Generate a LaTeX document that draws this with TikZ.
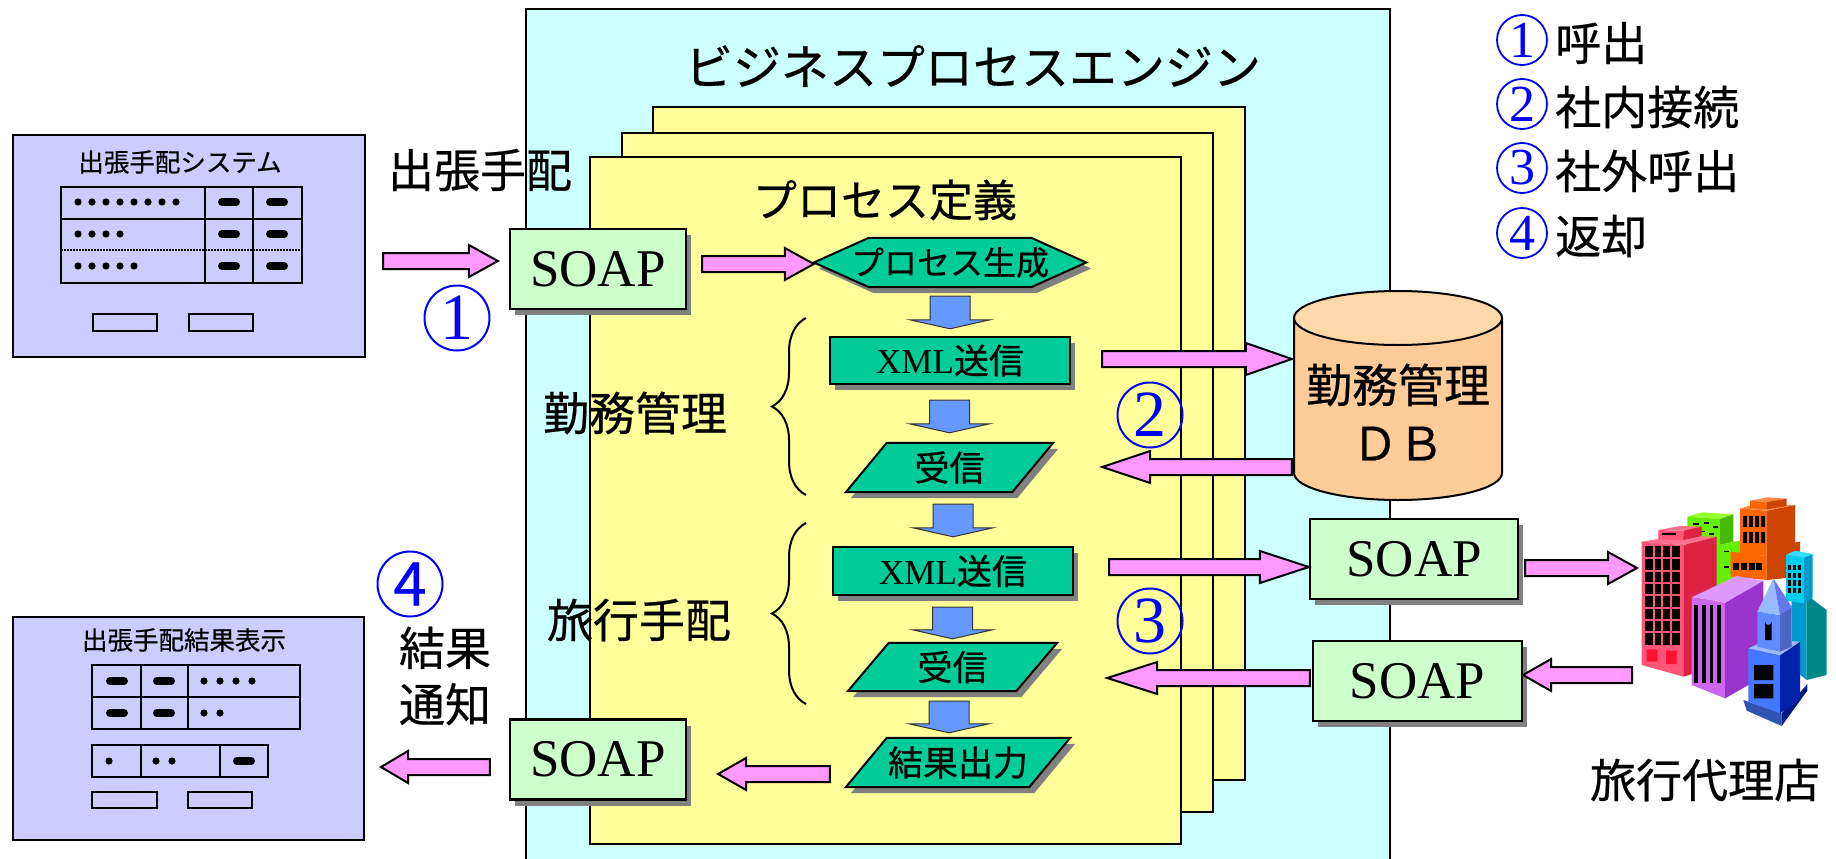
\documentclass[tikz,border=0pt]{standalone}
\usepackage{fontspec}
\setmainfont{Noto Sans CJK JP}[FakeBold=0.5]
\newfontfamily\tms{Liberation Serif}
\usetikzlibrary{calc,shadows,decorations.pathreplacing}
\pgfdeclarelayer{backdrop}
\pgfdeclarelayer{shapes}
\pgfsetlayers{backdrop,shapes,main}

\newcommand\setfs[1]{\fontsize{#1}{#1}\selectfont}

\definecolor{engine}{HTML}{CCFFFF}
\definecolor{sheet}{HTML}{FFFF99}
\definecolor{screenfill}{HTML}{CCCCFF}
\definecolor{soapfill}{HTML}{CCFFCC}
\definecolor{stepfill}{HTML}{00CC99}
\definecolor{flowpink}{HTML}{FF99FF}
\definecolor{flowblue}{HTML}{6699FF}
\definecolor{dbbody}{HTML}{FFCC99}
\definecolor{dbtop}{HTML}{FFD8AA}
\definecolor{shade}{HTML}{808080}
\definecolor{numblue}{HTML}{0000FF}
% city colours
\definecolor{gtop}{HTML}{99FF33}
\definecolor{gfront}{HTML}{66EE00}
\definecolor{gside}{HTML}{44BB00}
\definecolor{otop}{HTML}{FF8844}
\definecolor{ofront}{HTML}{FF6600}
\definecolor{oside}{HTML}{CC4400}
\definecolor{ctop}{HTML}{33DDFF}
\definecolor{cfront}{HTML}{00CCEE}
\definecolor{cside}{HTML}{0099CC}
\definecolor{cdark}{HTML}{008888}
\definecolor{ptop}{HTML}{FF7090}
\definecolor{pfront}{HTML}{FF5577}
\definecolor{pside}{HTML}{DD2244}
\definecolor{pleg}{HTML}{FF1133}
\definecolor{vtop}{HTML}{DD99FF}
\definecolor{vfront}{HTML}{CC66EE}
\definecolor{vside}{HTML}{9933CC}
\definecolor{btop}{HTML}{99BBFF}
\definecolor{bfront}{HTML}{4477FF}
\definecolor{bside}{HTML}{0022AA}
\definecolor{bspire}{HTML}{6677EE}

\tikzset{
  screen/.style={draw, line width=2, fill=screenfill, inner sep=0},
  tbl/.style={line width=1.6},
  bar/.style={line width=8, line cap=round},
  biglabel/.style={inner sep=0, font=\setfs{46}},
  soapbox/.style={draw, line width=2.2, fill=soapfill, inner sep=0,
    minimum width=#1, minimum height=80, font=\tms\setfs{53},
    drop shadow={shadow xshift=5pt, shadow yshift=-6pt, fill=shade, opacity=1}},
  stepnode/.style={inner sep=0, font=\setfs{35}},
  stepshape/.style={draw, line width=2, fill=stepfill,
    drop shadow={shadow xshift=5pt, shadow yshift=-6pt, fill=shade, opacity=1}},
  fatarrow/.style={draw, line width=2, fill=flowpink, line join=miter,
    to path={let \p1=(\tikztostart), \p2=(\tikztotarget),
      \n1={\x2-sign(\x2-\x1)*#1} in
      (\x1,\y1+8pt) -- (\n1,\y1+8pt) -- (\n1,\y1+16pt) -- (\x2,\y1)
      -- (\n1,\y1-16pt) -- (\n1,\y1-8pt) -- (\x1,\y1-8pt) -- cycle}},
  fatarrow/.default=29,
  downflow/.style={draw=black!80, line width=1, fill=flowblue,
    to path={let \p1=(\tikztostart), \p2=(\tikztotarget) in
      (\x2-20pt,\y1) -- (\x2+20pt,\y1) -- (\x2+20pt,\y2+9pt) -- (\x2+40pt,\y2+9pt)
      -- (\x2,\y2) -- (\x2-40pt,\y2+9pt) -- (\x2-20pt,\y2+9pt) -- cycle}},
  curly/.style={decorate, decoration={brace, amplitude=34}, line width=2},
  numbig/.style={circle, draw=numblue, line width=2, text=numblue, inner sep=0,
    minimum size=65, font=\tms\setfs{66}},
  numsmall/.style={circle, draw=numblue, line width=1.8, text=numblue, inner sep=0,
    minimum size=50, font=\tms\setfs{52}},
}

\begin{document}
\begin{tikzpicture}[x=1pt, y=-1pt]
\useasboundingbox (0,0) rectangle (1836,859);

% engine frame and the stacked process sheets
\begin{pgfonlayer}{backdrop}
  \fill[engine] (526,9) rectangle (1390,866);
  \draw[line width=2] (526,866) -- (526,9) -- (1390,9) -- (1390,866);
  \foreach \l/\t/\r/\b in {653/107/1245/780, 622/133/1213/812, 590/157/1181/844}
    \draw[line width=2.4, fill=sheet] (\l,\t) rectangle (\r,\b);
\end{pgfonlayer}

% ---- travel request screen
\node[screen, minimum width=352, minimum height=222] (box1) at (189,246) {};
\node[inner sep=0, font=\setfs{25.5}] (box1title) at (180,162) {出張手配システム};
\draw[tbl] (61,187) rectangle (302,283) (205,187) -- (205,283) (253,187) -- (253,283)
  (61,219) -- (302,219);
\draw[line width=1.2, dash pattern=on 1.5pt off 1.5pt] (61,250) -- (302,250);
\foreach \i in {0,...,7} \fill (78+14*\i,202) circle (3.6);
\foreach \i in {0,...,3} \fill (78+14*\i,234) circle (3.6);
\foreach \i in {0,...,4} \fill (78+14*\i,266) circle (3.6);
\foreach \y in {202,234,266} {\draw[bar] (222,\y) -- (236,\y); \draw[bar] (270,\y) -- (284,\y);}
\draw[tbl] (93,314) rectangle (157,331) (189,314) rectangle (253,331);

% ---- result screen
\node[screen, minimum width=351, minimum height=223] (box2) at (188.5,728.5) {};
\node[inner sep=0, font=\setfs{25.5}] (box2title) at (184,640) {出張手配結果表示};
\draw[tbl] (92,665) rectangle (300,729) (141,665) -- (141,729) (188,665) -- (188,729)
  (92,697) -- (300,697);
\foreach \y in {681,713} {\draw[bar] (110,\y) -- (124,\y); \draw[bar] (157,\y) -- (171,\y);}
\foreach \i in {0,...,3} \fill (204+16*\i,681) circle (3.6);
\foreach \i in {0,1} \fill (204+16*\i,713) circle (3.6);
\draw[tbl] (92,745) rectangle (268,777) (141,745) -- (141,777) (220,745) -- (220,777);
\fill (109,761) circle (3.6) (156,761) circle (3.6) (172,761) circle (3.6);
\draw[bar] (237,761) -- (251,761);
\draw[tbl] (92,792) rectangle (157,808) (188,792) rectangle (252,808);

% ---- headings and labels
\node[inner sep=0, font=\setfs{48}] (title) at (973,66) {ビジネスプロセスエンジン};
\node[inner sep=0, font=\setfs{44}] (procdef) at (885,200) {プロセス定義};
\node[biglabel] (lblorder) at (480,170) {出張手配};
\node[biglabel] (lblwork) at (635,413) {勤務管理};
\node[biglabel] (lbltravel) at (639,620) {旅行手配};
\node[biglabel, align=center, font=\fontsize{46}{56.5}\selectfont] (lblnotify) at (445,676) {結果\\通知};
\node[biglabel] (agency) at (1705,780) {旅行代理店};

% ---- SOAP gateways
\node[soapbox=176] (soap1) at (598,269) {SOAP};
\node[soapbox=176] (soap2) at (598,759.5) {SOAP};
\node[soapbox=208] (soapout) at (1414,559) {SOAP};
\node[soapbox=209] (soapin) at (1417.5,681) {SOAP};

% ---- process steps
\node[stepnode, minimum width=272, minimum height=49, font=\setfs{33}] (hex) at (950,262.5) {プロセス生成};
\node[stepnode, minimum width=240, minimum height=47] (xml1) at (950,360.5) {{\tms XML}送信};
\node[stepnode, minimum width=207, minimum height=49] (recv1) at (949.5,467.5) {受信};
\node[stepnode, minimum width=240, minimum height=48] (xml2) at (953,571) {{\tms XML}送信};
\node[stepnode, minimum width=209, minimum height=48] (recv2) at (952.5,667) {受信};
\node[stepnode, minimum width=224, minimum height=49] (result) at (958,762.5) {結果出力};

\begin{pgfonlayer}{shapes}
  \path[stepshape] (hex.west) -- ([xshift=55]hex.north west) -- ([xshift=-55]hex.north east)
    -- (hex.east) -- ([xshift=-55]hex.south east) -- ([xshift=55]hex.south west) -- cycle;
  \path[stepshape] (xml1.north west) rectangle (xml1.south east);
  \path[stepshape] (xml2.north west) rectangle (xml2.south east);
  \foreach \n in {recv1,recv2,result}
    \path[stepshape] ([xshift=41]\n.north west) -- (\n.north east)
      -- ([xshift=-41]\n.south east) -- (\n.south west) -- cycle;
\end{pgfonlayer}

% ---- braces grouping the two exchanges
\draw[curly] (806,495) -- (806,318);
\draw[curly] (806,704) -- (806,523);

% ---- attendance database
\fill[dbbody] (1294,318) -- (1294,473) .. controls (1294,487.9) and (1340.6,500) .. (1398,500)
  .. controls (1455.4,500) and (1502,487.9) .. (1502,473) -- (1502,318) -- cycle;
\draw[line width=2] (1294,318) -- (1294,473) .. controls (1294,487.9) and (1340.6,500) .. (1398,500)
  .. controls (1455.4,500) and (1502,487.9) .. (1502,473) -- (1502,318);
\draw[line width=2, fill=dbtop] (1398,318) ellipse [x radius=104, y radius=27];
\node[inner sep=0, minimum width=208, align=center, font=\fontsize{46}{58}\selectfont] (db) at (1398,412) {勤務管理\\ＤＢ};

% ---- travel agency buildings
\coordinate (cityin) at (1637,568);
\coordinate (cityout) at (1632,675);
\begin{scope}[shift={(1600,480)}, scale=1/3]
  % green block at the back
  \fill[gtop] (262,110) -- (305,97) -- (400,103) -- (360,117) -- cycle;
  \fill[gfront] (262,110) -- (360,117) -- (360,330) -- (262,330) -- cycle;
  \fill[gside] (360,117) -- (400,103) -- (400,185) -- (360,195) -- cycle;
  \fill[gfront] (355,195) -- (420,182) -- (420,300) -- (355,320) -- cycle;
  \foreach \xx/\yy in {280/130, 312/127, 338/138, 298/152, 326/160, 288/176, 330/184, 372/212, 396/222, 372/258}
    \fill (\xx,\yy) rectangle ++(16,5);
  % orange tower
  \fill[ofront] (392,215) -- (500,228) -- (500,300) -- (392,290) -- cycle;
  \fill[oside] (500,200) -- (600,185) -- (600,290) -- (500,300) -- cycle;
  \fill[ofront] (420,85) -- (500,92) -- (500,228) -- (420,220) -- cycle;
  \fill[oside] (500,92) -- (585,75) -- (585,190) -- (500,205) -- cycle;
  \fill[otop] (420,85) -- (470,72) -- (585,75) -- (500,92) -- cycle;
  \fill[ofront] (450,62) -- (500,66) -- (500,88) -- (450,84) -- cycle;
  \fill[otop] (450,62) -- (505,52) -- (560,56) -- (500,66) -- cycle;
  \fill[oside] (500,66) -- (560,56) -- (560,78) -- (500,88) -- cycle;
  \foreach \xx in {428,446,464,482} {\fill (\xx,108) rectangle ++(12,32); \fill (\xx,155) rectangle ++(12,35);}
  \foreach \xx in {400,423,446,469} \fill (\xx,248) rectangle ++(18,22);
  % cyan tower
  \fill[cside] (575,360) -- (620,345) -- (620,600) -- (575,565) -- cycle;
  \fill[cdark] (620,345) -- (680,390) -- (680,585) -- (620,600) -- cycle;
  \fill[cfront] (558,225) -- (612,232) -- (612,370) -- (558,362) -- cycle;
  \fill[cside] (612,232) -- (638,222) -- (638,355) -- (612,370) -- cycle;
  \fill[ctop] (558,225) -- (585,212) -- (638,222) -- (612,232) -- cycle;
  \foreach \xx in {565,580,595} \foreach \yy in {255,278,301,324} \fill (\xx,\yy) rectangle ++(9,16);
  % tall pink building
  \fill[pfront] (125,185) -- (250,195) -- (250,590) -- (125,555) -- cycle;
  \fill[pside] (250,195) -- (350,170) -- (350,560) -- (250,590) -- cycle;
  \fill[ptop] (125,185) -- (230,168) -- (350,170) -- (250,195) -- cycle;
  \fill[pfront] (175,150) -- (250,152) -- (250,180) -- (175,178) -- cycle;
  \fill[ptop] (175,150) -- (240,138) -- (305,140) -- (250,152) -- cycle;
  \fill[pside] (250,152) -- (305,140) -- (305,168) -- (250,180) -- cycle;
  \fill (185,158) rectangle (228,164);
  \fill (135,198) rectangle (240,495);
  \foreach \xx in {161,187,213} \draw[pfront, line width=2] (\xx,198) -- (\xx,495);
  \foreach \yy in {235,272,309,346,383,420,457} \draw[pfront, line width=2] (135,\yy) -- (240,\yy);
  \fill[pleg] (140,508) rectangle (172,545) (198,512) rectangle (230,552);
  % purple block
  \fill[vfront] (275,352) -- (375,368) -- (375,655) -- (275,615) -- cycle;
  \fill[vside] (375,368) -- (490,302) -- (490,590) -- (375,655) -- cycle;
  \fill[vtop] (275,352) -- (410,288) -- (490,302) -- (375,368) -- cycle;
  \foreach \xx in {283,306,329,352} \fill (\xx,375) rectangle ++(11,235);
  % blue church
  \fill[bfront!70!black] (430,660) -- (545,700) -- (545,738) -- (440,692) -- cycle;
  \fill[bside!80!black] (545,700) -- (622,612) -- (622,632) -- (545,738) -- cycle;
  \fill[bfront] (445,505) -- (540,525) -- (540,700) -- (445,665) -- cycle;
  \fill[bside] (540,525) -- (600,485) -- (600,660) -- (540,700) -- cycle;
  \fill[btop] (445,505) -- (505,478) -- (600,485) -- (540,525) -- cycle;
  \fill (462,555) rectangle (520,600) (462,612) rectangle (520,655);
  \fill[bfront!85!white] (472,395) -- (540,405) -- (540,515) -- (472,500) -- cycle;
  \fill[bside!70!white] (540,405) -- (575,380) -- (575,500) -- (540,515) -- cycle;
  \fill[btop] (472,395) -- (520,295) -- (540,405) -- cycle;
  \fill[bspire] (540,405) -- (520,295) -- (575,380) -- cycle;
  \fill (495,480) -- (495,425) arc[start angle=180, end angle=0, radius=10] -- (515,480) -- cycle;
\end{scope}

% ---- message flows
\draw[fatarrow] ([xshift=17,yshift=-15]box1.east) to ([xshift=-11]soap1.west);
\draw[fatarrow] ([xshift=15,yshift=5]soap1.east) to (hex.west);
\draw[fatarrow=46] ([xshift=32,yshift=1.5]xml1.east) to ([xshift=-2]db.west);
\draw[fatarrow=48] ([xshift=-2,yshift=-55]db.west) to ([xshift=49]recv1.east);
\draw[fatarrow=49] ([xshift=36,yshift=4]xml2.east) to (soapout.west);
\draw[fatarrow] ([xshift=6,yshift=-9]soapout.east) to (cityin);
\draw[fatarrow=50] ([xshift=-2,yshift=3]soapin.west) to ([xshift=50]recv2.east);
\draw[fatarrow=28] (cityout) to (soapin.east);
\draw[fatarrow=28] ([xshift=-16,yshift=-11.5]result.west) to ([xshift=31]soap2.east);
\draw[fatarrow=27] ([xshift=-19,yshift=-7.5]soap2.west) to ([xshift=16]box2.east);

% ---- step-to-step flow
\draw[downflow] ([yshift=-9]hex.south) to ([yshift=8]xml1.north);
\draw[downflow] ([yshift=-16]xml1.south) to ([yshift=10]recv1.north);
\draw[downflow] ([yshift=-12]recv1.south) to ([yshift=10]xml2.north);
\draw[downflow] ([yshift=-12]xml2.south) to ([yshift=4]recv2.north);
\draw[downflow] ([yshift=-10]recv2.south) to ([xshift=-9,yshift=5]result.north);

% ---- numbered markers
\node[numbig] (m1) at (457,318) {1};
\node[numbig] (m2) at (1150,415) {2};
\node[numbig] (m3) at (1150,621) {3};
\node[numbig, font=\setfs{60}] (m4) at (410,584) {4};

% ---- legend
\node[numsmall] (k1) at (1522,40) {1};
\node[numsmall] (k2) at (1522,104) {2};
\node[numsmall] (k3) at (1522,168) {3};
\node[numsmall] (k4) at (1522,233) {4};
\node[biglabel, anchor=west] (k1t) at (1555,43) {呼出};
\node[biglabel, anchor=west] (k2t) at (1555,107) {社内接続};
\node[biglabel, anchor=west] (k3t) at (1555,171) {社外呼出};
\node[biglabel, anchor=west] (k4t) at (1555,236) {返却};
\end{tikzpicture}
\end{document}
